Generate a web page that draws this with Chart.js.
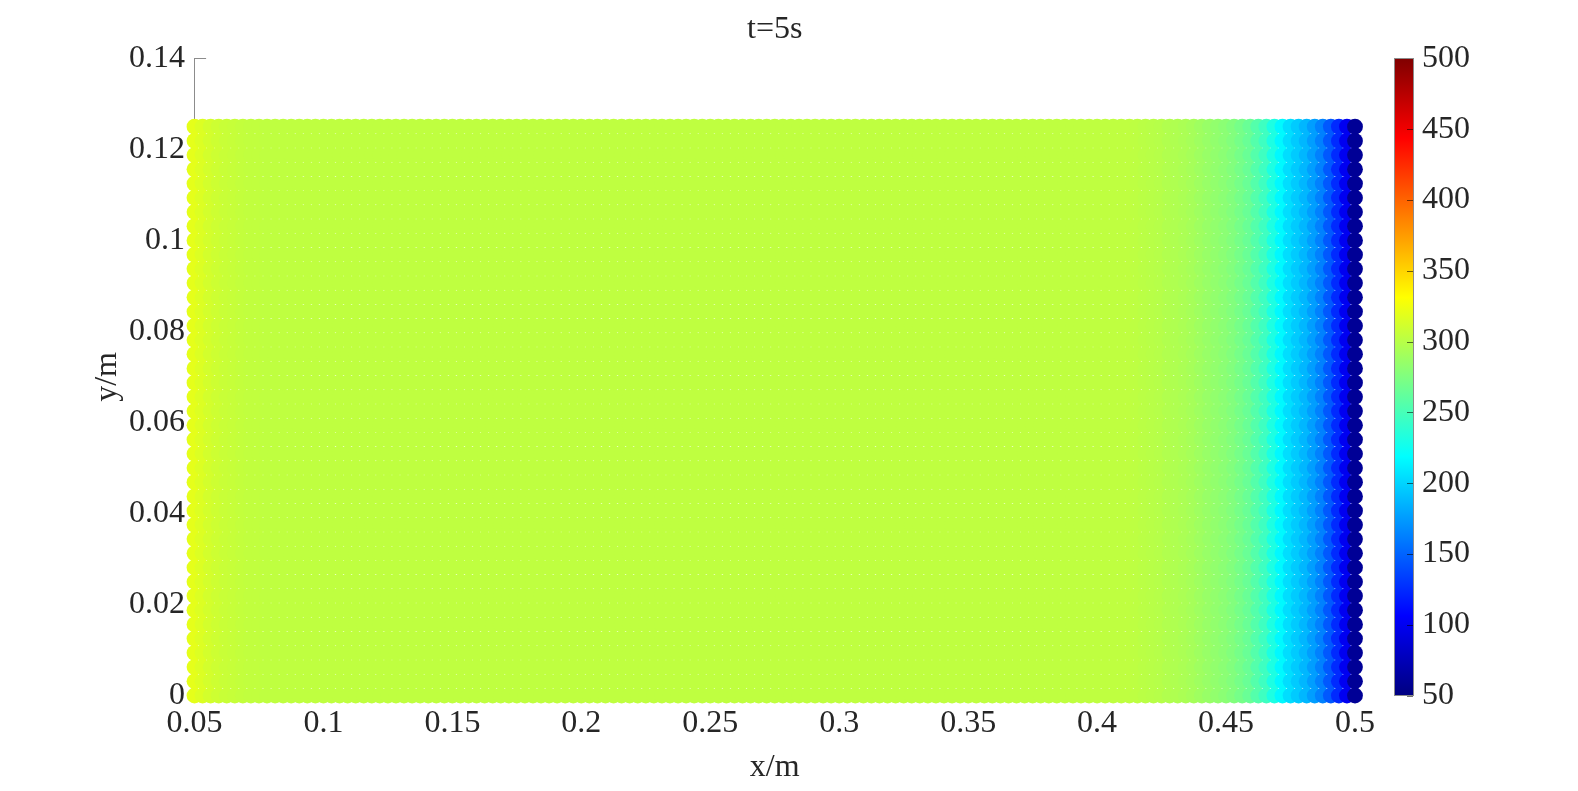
<!DOCTYPE html>
<html>
<head>
<meta charset="utf-8">
<script src="https://cdn.jsdelivr.net/npm/chart.js@4.4.1/dist/chart.umd.min.js"></script>
<style>
html,body{margin:0;padding:0;background:#fff;overflow:hidden}
#wrap{position:relative;width:1578px;height:791px}
</style>
</head>
<body>
<div id="wrap"><canvas id="plot" width="1578" height="791"></canvas></div>
<script>
// particle columns (x, m)
var xPos = [
    0.05, 0.053125, 0.05625, 0.059375, 0.0625, 0.065625, 0.06875, 0.071875,
    0.075, 0.078125, 0.08125, 0.084375, 0.0875, 0.090625, 0.09375, 0.096875,
    0.1, 0.103125, 0.10625, 0.109375, 0.1125, 0.115625, 0.11875, 0.121875,
    0.125, 0.128125, 0.13125, 0.134375, 0.1375, 0.140625, 0.14375, 0.146875,
    0.15, 0.153125, 0.15625, 0.159375, 0.1625, 0.165625, 0.16875, 0.171875,
    0.175, 0.178125, 0.18125, 0.184375, 0.1875, 0.190625, 0.19375, 0.196875,
    0.2, 0.203125, 0.20625, 0.209375, 0.2125, 0.215625, 0.21875, 0.221875,
    0.225, 0.228125, 0.23125, 0.234375, 0.2375, 0.240625, 0.24375, 0.246875,
    0.25, 0.253125, 0.25625, 0.259375, 0.2625, 0.265625, 0.26875, 0.271875,
    0.275, 0.278125, 0.28125, 0.284375, 0.2875, 0.290625, 0.29375, 0.296875,
    0.3, 0.303125, 0.30625, 0.309375, 0.3125, 0.315625, 0.31875, 0.321875,
    0.325, 0.328125, 0.33125, 0.334375, 0.3375, 0.340625, 0.34375, 0.346875,
    0.35, 0.353125, 0.35625, 0.359375, 0.3625, 0.365625, 0.36875, 0.371875,
    0.375, 0.378125, 0.38125, 0.384375, 0.3875, 0.390625, 0.39375, 0.396875,
    0.4, 0.403125, 0.40625, 0.409375, 0.4125, 0.415625, 0.41875, 0.421875,
    0.425, 0.428125, 0.43125, 0.434375, 0.4375, 0.440625, 0.44375, 0.446875,
    0.45, 0.453125, 0.45625, 0.459375, 0.4625, 0.465625, 0.46875, 0.471875,
    0.475, 0.478125, 0.48125, 0.484375, 0.4875, 0.490625, 0.49375, 0.496875,
    0.5
];

// particle rows (y, m)
var yPos = [
    0, 0.003125, 0.00625, 0.009375, 0.0125, 0.015625, 0.01875, 0.021875,
    0.025, 0.028125, 0.03125, 0.034375, 0.0375, 0.040625, 0.04375, 0.046875,
    0.05, 0.053125, 0.05625, 0.059375, 0.0625, 0.065625, 0.06875, 0.071875,
    0.075, 0.078125, 0.08125, 0.084375, 0.0875, 0.090625, 0.09375, 0.096875,
    0.1, 0.103125, 0.10625, 0.109375, 0.1125, 0.115625, 0.11875, 0.121875,
    0.125
];

// temperature of each column
var colTemp = [
    320, 316, 312, 309, 307, 306, 305, 304, 304, 303,
    303, 303, 303, 303, 303, 303, 303, 303, 303, 303,
    303, 303, 303, 303, 303, 303, 303, 303, 303, 303,
    303, 303, 303, 303, 303, 303, 303, 303, 303, 303,
    303, 303, 303, 303, 303, 303, 303, 303, 303, 303,
    303, 303, 303, 303, 303, 303, 303, 303, 303, 303,
    303, 303, 303, 303, 303, 303, 303, 303, 303, 303,
    303, 303, 303, 303, 303, 303, 303, 303, 303, 303,
    303, 303, 303, 303, 303, 303, 303, 303, 303, 303,
    303, 303, 303, 303, 303, 303, 303, 303, 303, 303,
    303, 303, 303, 303, 303, 303, 303, 303, 303, 303,
    303, 303, 303, 303, 303, 303, 303,
    302, 301, 300, 299, 297, 296, 294, 292, 289, 286,
    283, 280, 276, 271, 265, 256, 246, 231, 216, 204,
    196, 187, 176, 163, 145, 125, 100, 60
];

var xTicks = [0.05, 0.1, 0.15, 0.2, 0.25, 0.3, 0.35, 0.4, 0.45, 0.5];
var xTickLabels = ['0.05', '0.1', '0.15', '0.2', '0.25', '0.3', '0.35', '0.4', '0.45', '0.5'];
var yTicks = [0, 0.02, 0.04, 0.06, 0.08, 0.1, 0.12, 0.14];
var yTickLabels = ['0', '0.02', '0.04', '0.06', '0.08', '0.1', '0.12', '0.14'];
var cbTicks = [50, 100, 150, 200, 250, 300, 350, 400, 450, 500];
var cbTickLabels = ['50', '100', '150', '200', '250', '300', '350', '400', '450', '500'];
var cMin = 50, cMax = 500;

var FONT = {family: '"Liberation Serif", "Times New Roman", serif', size: 32};
var TXT = '#262626';
var AXC = '#8c8c8c';

// matlab jet
var clamp = function(v){ return Math.max(0, Math.min(1, v)); };
var jetRGB = function(f){
    var r = clamp(Math.min(4*f - 1.5, -4*f + 4.5));
    var g = clamp(Math.min(4*f - 0.5, -4*f + 3.5));
    var b = clamp(Math.min(4*f + 0.5, -4*f + 2.5));
    return 'rgb(' + Math.round(r*255) + ',' + Math.round(g*255) + ',' + Math.round(b*255) + ')';
};
var jet = function(t){ return jetRGB((t - cMin)/(cMax - cMin)); };

var pts = [], cols = [];
for(var i=0;i<xPos.length;i++){
    for(var j=0;j<yPos.length;j++){
        pts.push({x: xPos[i], y: yPos[j]});
        cols.push(jet(colTemp[i]));
    }
}

var setTicks = function(list){
    return function(scale){ scale.ticks = list.map(function(v){ return {value: v}; }); };
};

var innerTicks = {
    id: 'innerTicks',
    beforeDatasetsDraw: function(chart){
        var ctx = chart.ctx, a = chart.chartArea, len = 11.6;
        var sx = chart.scales.x, sy = chart.scales.y;
        ctx.save();
        ctx.strokeStyle = AXC;
        ctx.lineWidth = 1;
        ctx.beginPath();
        yTicks.forEach(function(v){
            var p = Math.round(sy.getPixelForValue(v)) + 0.5;
            ctx.moveTo(a.left, p); ctx.lineTo(a.left + len, p);
        });
        xTicks.forEach(function(v){
            var p = Math.round(sx.getPixelForValue(v)) + 0.5;
            ctx.moveTo(p, a.bottom); ctx.lineTo(p, a.bottom - len);
        });
        ctx.stroke();
        ctx.restore();
    }
};

var colorBar = {
    id: 'colorBar',
    afterDraw: function(chart){
        var ctx = chart.ctx, s = chart.scales.cb;
        var x0 = 1394, w = 19;
        var top = s.getPixelForValue(cMax), bot = s.getPixelForValue(cMin);
        var grad = ctx.createLinearGradient(0, bot, 0, top);
        for(var k=0;k<=32;k++){
            grad.addColorStop(k/32, jetRGB(k/32));
        }
        ctx.save();
        ctx.fillStyle = grad;
        ctx.fillRect(x0, top, w, bot - top);
        ctx.strokeStyle = 'rgba(0,0,0,0.55)';
        ctx.lineWidth = 1;
        ctx.beginPath();
        cbTicks.forEach(function(v){
            var p = Math.round(s.getPixelForValue(v)) + 0.5;
            ctx.moveTo(x0 + w - 6, p); ctx.lineTo(x0 + w, p);
        });
        ctx.stroke();
        ctx.strokeStyle = AXC;
        ctx.strokeRect(x0 + 0.5, Math.round(top) + 0.5, w, Math.round(bot - top));
        ctx.restore();
    }
};

var noPadV = function(w){
    return function(s){ s.width = w; s.paddingTop = 0; s.paddingBottom = 0; };
};

var chart = new Chart(document.getElementById('plot').getContext('2d'), {
    type: 'scatter',
    data: {
        datasets: [{
            data: pts,
            pointBackgroundColor: cols,
            pointBorderWidth: 0,
            pointRadius: 7.9,
            clip: false
        }]
    },
    options: {
        responsive: false,
        devicePixelRatio: 1,
        animation: false,
        events: [],
        layout: {padding: 0},
        plugins: {
            legend: {display: false},
            tooltip: {enabled: false},
            title: {
                display: true,
                text: 't=5s',
                fullSize: false,
                color: TXT,
                font: {family: FONT.family, size: 32, weight: 'normal'},
                padding: {top: 10, bottom: 10}
            }
        },
        scales: {
            x: {
                type: 'linear',
                min: 0.05,
                max: 0.5,
                afterBuildTicks: setTicks(xTicks),
                afterFit: function(s){ s.height = 95.5; s.paddingLeft = 0; s.paddingRight = 0; },
                grid: {display: false, drawTicks: false},
                border: {display: false},
                ticks: {
                    font: FONT, color: TXT, padding: 9,
                    maxRotation: 0, autoSkip: false,
                    callback: function(v, i){ return xTickLabels[i]; }
                },
                title: {display: true, text: 'x/m', font: FONT, color: TXT, padding: {top: 0, bottom: 4}}
            },
            y: {
                type: 'linear',
                min: 0,
                max: 0.14,
                afterBuildTicks: setTicks(yTicks),
                afterFit: noPadV(194.5),
                grid: {display: false, drawTicks: false},
                border: {display: true, color: AXC, width: 1},
                ticks: {
                    font: FONT, color: TXT, padding: 9.5, autoSkip: false,
                    callback: function(v, i){ return yTickLabels[i]; }
                },
                title: {display: true, text: 'y/m', font: FONT, color: TXT, padding: {top: 88, bottom: 0}}
            },
            cb: {
                type: 'linear',
                position: 'right',
                min: cMin,
                max: cMax,
                afterBuildTicks: setTicks(cbTicks),
                afterFit: noPadV(223),
                grid: {display: false, drawTicks: false},
                border: {display: false},
                ticks: {
                    font: FONT, color: TXT, padding: 67, autoSkip: false,
                    callback: function(v, i){ return cbTickLabels[i]; }
                }
            }
        }
    },
    plugins: [innerTicks, colorBar]
});
</script>
</body>
</html>
